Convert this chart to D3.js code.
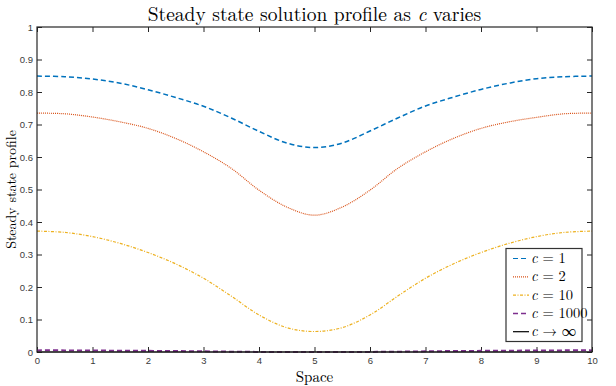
<!DOCTYPE html>
<html>
<head>
<meta charset="utf-8">
<script src="https://cdn.jsdelivr.net/npm/d3@7"></script>
<style>
  body { margin: 0; background: #fff; }
  svg { display: block; }
</style>
</head>
<body>
<div id="chart"></div>
<script>
// sample positions in space
var space = [0, 0.5, 1, 1.5, 2, 2.5, 3, 3.5, 4, 4.5, 5, 5.5, 6, 6.5, 7, 7.5, 8, 8.5, 9, 9.5, 10];

// steady state profiles
var c1 = [0.849, 0.847, 0.840, 0.827, 0.807, 0.783, 0.756, 0.720, 0.679, 0.643, 0.629,
          0.643, 0.680, 0.720, 0.757, 0.784, 0.808, 0.827, 0.841, 0.847, 0.849];
var c2 = [0.735, 0.733, 0.723, 0.708, 0.688, 0.657, 0.616, 0.565, 0.498, 0.446, 0.421,
          0.446, 0.498, 0.565, 0.616, 0.657, 0.688, 0.708, 0.722, 0.733, 0.735];
var c10 = [0.372, 0.368, 0.355, 0.334, 0.306, 0.271, 0.227, 0.172, 0.114, 0.075, 0.063,
           0.075, 0.114, 0.172, 0.227, 0.271, 0.306, 0.334, 0.355, 0.368, 0.372];
var c1000 = [0.005, 0.005, 0.0045, 0.004, 0.0035, 0.003, 0.002, 0.001, 0.0003, 0.0001, 0,
             0.0001, 0.0003, 0.001, 0.002, 0.003, 0.0035, 0.004, 0.0045, 0.005, 0.005];
var cInf = [0, 0, 0, 0, 0, 0, 0, 0, 0, 0, 0, 0, 0, 0, 0, 0, 0, 0, 0, 0, 0];

var xTicks = [0, 1, 2, 3, 4, 5, 6, 7, 8, 9, 10];
var yTicks = [0, 0.1, 0.2, 0.3, 0.4, 0.5, 0.6, 0.7, 0.8, 0.9, 1];

var seriesNames = ["= 1", "= 2", "= 10", "= 1000", "\u2192 \u221E"];
var seriesValues = [c1, c2, c10, c1000, cInf];

// styling per series (MATLAB default colours)
var colors = ["#0072BD", "#D95319", "#EDB120", "#7E2F8E", "#000000"];
var dashes = ["5,3", "1,1", "3,1.5,1,1.5", "5,3", null];
var widths = [1.5, 1.2, 1.2, 2, 1.2];

var width = 616, height = 386;
var margin = {top: 27, right: 24, bottom: 34, left: 37};

var svg = d3.select("#chart").append("svg")
  .attr("width", width)
  .attr("height", height);

svg.append("rect").attr("width", width).attr("height", height).attr("fill", "#fff");

var x = d3.scaleLinear().domain([0, 10]).range([margin.left, width - margin.right]);
var y = d3.scaleLinear().domain([0, 1]).range([height - margin.bottom, margin.top]);

var axisColor = "#262626";
var tickFont = "'Liberation Sans', Arial, sans-serif";

// bottom axis with labels
var gx = svg.append("g")
  .attr("transform", "translate(0," + y(0) + ")")
  .call(d3.axisBottom(x).tickValues(xTicks).tickSizeInner(-5).tickSizeOuter(0).tickPadding(5).tickFormat(d3.format("d")));
// top axis, ticks only
var gxt = svg.append("g")
  .attr("transform", "translate(0," + y(1) + ")")
  .call(d3.axisTop(x).tickValues(xTicks).tickSizeInner(-5).tickSizeOuter(0).tickFormat(""));
// left axis with labels
var gy = svg.append("g")
  .attr("transform", "translate(" + x(0) + ",0)")
  .call(d3.axisLeft(y).tickValues(yTicks).tickSizeInner(-5).tickSizeOuter(0).tickPadding(4)
    .tickFormat(function(d) { return d === 0 || d === 1 ? d3.format("d")(d) : d3.format(".1f")(d); }));
// right axis, ticks only
var gyr = svg.append("g")
  .attr("transform", "translate(" + x(10) + ",0)")
  .call(d3.axisRight(y).tickValues(yTicks).tickSizeInner(-5).tickSizeOuter(0).tickFormat(""));

[gx, gxt, gy, gyr].forEach(function(g) {
  g.select(".domain").remove();
  g.selectAll("line").attr("stroke", axisColor).attr("stroke-width", 1);
  g.selectAll("text").attr("fill", "#3a3a3a").style("font-family", tickFont).style("font-size", "9.5px");
});

// lines
var line = d3.line()
  .x(function(d, i) { return x(space[i]); })
  .y(function(d) { return y(d); })
  .curve(d3.curveCatmullRom);

seriesValues.forEach(function(vals, k) {
  var p = svg.append("path")
    .datum(vals)
    .attr("fill", "none")
    .attr("stroke", colors[k])
    .attr("stroke-width", widths[k])
    .attr("d", line);
  if (dashes[k]) p.attr("stroke-dasharray", dashes[k]);
});

// axes box
svg.append("rect")
  .attr("x", x(0))
  .attr("y", y(1))
  .attr("width", x(10) - x(0))
  .attr("height", y(0) - y(1))
  .attr("fill", "none")
  .attr("stroke", axisColor)
  .attr("stroke-width", 1.2);

var serif = "'Latin Modern Roman', 'CMU Serif', 'Liberation Serif', 'Times New Roman', serif";

// title
var title = svg.append("text")
  .attr("x", (x(0) + x(10)) / 2)
  .attr("y", 20.5)
  .attr("text-anchor", "middle")
  .style("font-family", serif)
  .style("font-size", "19.5px")
  .attr("fill", "#000");
title.append("tspan").text("Steady state solution profile as ");
title.append("tspan").style("font-style", "italic").text("c");
title.append("tspan").text(" varies");

// axis labels
svg.append("text")
  .attr("x", (x(0) + x(10)) / 2)
  .attr("y", 382)
  .attr("text-anchor", "middle")
  .style("font-family", serif)
  .style("font-size", "15px")
  .text("Space");

svg.append("text")
  .attr("transform", "translate(15.5," + (y(0) + y(1)) / 2 + ") rotate(-90)")
  .attr("text-anchor", "middle")
  .style("font-family", serif)
  .style("font-size", "14px")
  .text("Steady state profile");

// legend
var legend = svg.append("g");
legend.append("rect")
  .attr("x", 506)
  .attr("y", 248.5)
  .attr("width", 76)
  .attr("height", 93)
  .attr("fill", "#fff")
  .attr("stroke", "#333")
  .attr("stroke-width", 1.2);

seriesNames.forEach(function(name, k) {
  var ly = 258.5 + k * 18.3;
  var l = legend.append("line")
    .attr("x1", 513).attr("x2", 529)
    .attr("y1", ly).attr("y2", ly)
    .attr("stroke", colors[k])
    .attr("stroke-width", k === 3 ? 1.5 : 1.2);
  if (dashes[k]) l.attr("stroke-dasharray", dashes[k]);
  var t = legend.append("text")
    .attr("x", 531)
    .attr("y", ly + 4.5)
    .style("font-family", serif)
    .style("font-size", "14.5px")
    .attr("fill", "#000");
  t.append("tspan").style("font-style", "italic").text("c");
  t.append("tspan").text(" " + name);
});
</script>
</body>
</html>
